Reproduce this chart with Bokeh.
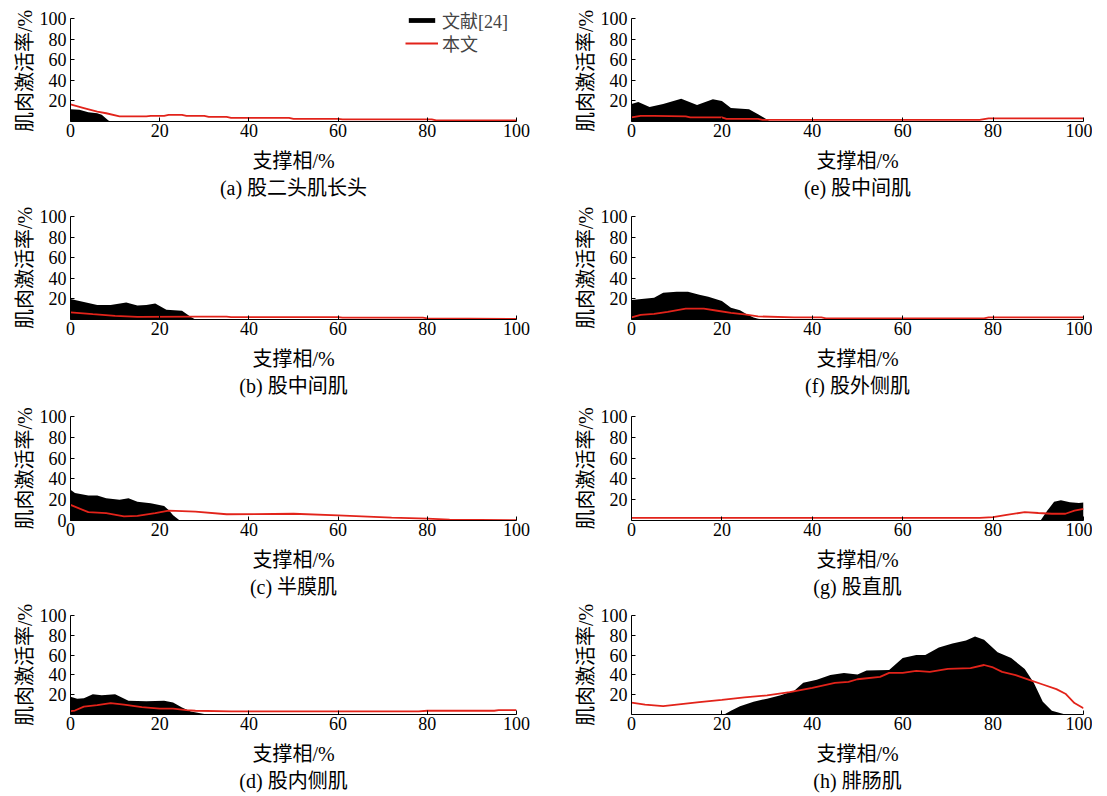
from bokeh.plotting import figure
from bokeh.layouts import gridplot
from bokeh.models import FixedTicker, Legend, LegendItem, Range1d
from bokeh.embed import file_html
from bokeh.resources import INLINE

# ---------------- data ----------------
x_ticks = [0, 20, 40, 60, 80, 100]
y_ticks = [20, 40, 60, 80, 100]
y_ticks_zero = [0, 20, 40, 60, 80, 100]
x_title = "支撑相/%"
y_title = "肌肉激活率/%"
series_names = ["文献[24]", "本文"]

# (a) 股二头肌长头
a_lit_x = [0, 2, 4, 6, 7, 8.5, 9, 100]
a_lit_y = [12, 11.5, 9, 8, 6.5, 1, 0, 0]
a_ours_x = [0, 3, 6, 8, 11, 17, 18, 21, 22, 25, 26, 30, 31, 35, 36, 49, 50, 60, 61, 81, 82, 100]
a_ours_y = [16.5, 13, 9.5, 8, 5, 5, 5.5, 5.5, 6.5, 6.5, 5.5, 5.5, 4.5, 4.5, 3.5, 3.5, 2.5, 2.5, 2, 2, 1, 1]

# (b) 股中间肌
b_lit_x = [0, 1, 3, 6, 9, 12.5, 15, 17, 19, 21.5, 25, 27, 28, 100]
b_lit_y = [20, 19, 17, 14, 14, 16.5, 13.5, 14, 15.5, 9.5, 8.5, 2.5, 0, 0]
b_ours_x = [0, 5, 10, 15, 28, 35, 36, 60, 61, 79, 80, 100]
b_ours_y = [7, 5.2, 3.5, 2.5, 2.8, 2.8, 2.4, 2.4, 1.8, 1.8, 1, 0.5]

# (c) 半膜肌
c_lit_x = [0, 1, 4, 6, 8, 11, 13, 15, 18, 21, 22, 23, 24.5, 100]
c_lit_y = [29.5, 26.5, 24, 24, 21.5, 20, 21.5, 18, 16.5, 14, 10, 5, 0, 0]
c_ours_x = [0, 4, 8, 12, 15, 19, 22, 28, 35, 50, 60, 72, 80, 85, 100]
c_ours_y = [15, 8, 7, 4, 4.5, 7, 9.5, 8.5, 6, 6.5, 5, 2.8, 1.8, 0.8, 0.3]

# (d) 股内侧肌
d_lit_x = [0, 1.5, 3, 5, 7, 10, 13, 17, 21, 23, 25, 27, 30, 31, 100]
d_lit_y = [18, 16, 16.5, 20.5, 19.5, 20.5, 14, 13.5, 14, 12, 7, 3, 0.6, 0, 0]
d_ours_x = [0, 1, 3, 6, 9, 12, 16, 20, 23, 26, 28, 36, 78, 80, 95, 96, 100]
d_ours_y = [3.5, 4, 8, 9.5, 11.5, 10, 7.5, 6, 6, 4.5, 3.8, 3.2, 3.2, 3.8, 3.8, 4.4, 4.4]

# (e) 股中间肌
e_lit_x = [0, 1.5, 4, 7, 11, 14.5, 18, 20, 22, 26, 28, 30.5, 31, 100]
e_lit_y = [17, 19, 14, 17, 22, 16, 21.5, 20, 13, 12, 7, 0.5, 0, 0]
e_ours_x = [0, 2, 5, 12, 13, 20, 21, 28, 29, 77, 79, 100]
e_ours_y = [4, 5.5, 5.5, 5, 4, 4, 2.5, 2.5, 1.5, 1.5, 3, 3]

# (f) 股外侧肌
f_lit_x = [0, 5, 7, 10, 12.5, 15, 17, 20, 22, 24, 25.5, 27, 28, 29.5, 100]
f_lit_y = [19, 21, 26, 27, 27, 24, 22, 18, 11.5, 9, 5, 2, 0.7, 0, 0]
f_ours_x = [0, 2, 5, 8, 12, 16, 19, 22, 25, 28, 36, 42, 43, 78, 79, 100]
f_ours_y = [2, 4.5, 5.5, 7.5, 10.5, 10.5, 8.5, 6.5, 5, 3, 2, 2, 1, 1, 2, 2]

# (g) 股直肌
g_lit_x = [0, 90.5, 92, 93.5, 95, 97, 99, 100]
g_lit_y = [0, 0, 9.5, 18, 19.5, 17.5, 16.8, 17.3]
g_ours_x = [0, 77, 80, 83, 87, 90, 93, 96, 98, 100]
g_ours_y = [2.5, 2.5, 3.2, 5.4, 8, 7.2, 6.5, 6.5, 9.5, 11.2]

# (h) 腓肠肌
h_lit_x = [0, 20.5, 22, 24, 27, 30, 33, 36, 38, 41, 44, 47, 50, 52, 57, 60, 63, 65,
           68, 71, 74, 76, 78, 81, 84, 87, 89, 91, 93, 96, 100]
h_lit_y = [0, 0, 3.8, 8.4, 13, 16, 19.4, 24, 32, 35, 40, 42, 40.3, 44.4, 45, 57, 60, 60,
           67.8, 71.6, 74.7, 78.8, 75.6, 63, 57, 46, 32, 13, 3.8, 0, 0]
h_ours_x = [0, 3, 7, 10, 15, 20, 25, 30, 35, 40, 45, 48, 50, 55, 57, 60, 63, 66, 70,
            75, 78, 80, 82, 85, 88, 91, 94, 96, 98, 100]
h_ours_y = [12, 10, 8.4, 10, 12.5, 14.7, 17.2, 19.4, 22.5, 27, 32, 33, 35.6, 38, 42, 42,
            44, 43, 46, 46.9, 50, 47.5, 43, 39.7, 35, 30.3, 25.6, 21, 11.6, 6.3]

captions = ["(a) 股二头肌长头", "(b) 股中间肌", "(c) 半膜肌", "(d) 股内侧肌",
            "(e) 股中间肌", "(f) 股外侧肌", "(g) 股直肌", "(h) 腓肠肌"]

# ---------------- styling ----------------
FONT = "'Liberation Serif', 'Noto Sans CJK SC'"
RED = "#e2231a"


def make(lit_x, lit_y, ours_x, ours_y, caption, width, height,
         left, right, top, frame_h, yt, y_end=100, ylabel=y_title, legend=False):
    p = figure(width=width, height=height,
               x_range=Range1d(0, 100), y_range=Range1d(0, y_end),
               output_backend="svg", toolbar_location=None, title=None,
               min_border_left=left, min_border_right=right,
               min_border_top=top, min_border_bottom=height - top - frame_h)
    p.outline_line_color = None
    p.xgrid.visible = False
    p.ygrid.visible = False
    p.background_fill_color = "white"
    p.border_fill_color = "white"

    va = p.varea(x=lit_x, y1=0, y2=lit_y, fill_color="black")
    ln = p.line(ours_x, ours_y, line_color=RED, line_width=1.8)

    for ax in (p.xaxis[0], p.yaxis[0]):
        ax.major_tick_in = 4
        ax.major_tick_out = 0
        ax.minor_tick_line_color = None
        ax.axis_line_color = "black"
        ax.major_tick_line_color = "black"
        ax.major_label_text_font = FONT
        ax.major_label_text_font_size = "18px"
        ax.major_label_text_color = "black"
        ax.axis_label_text_font = FONT
        ax.axis_label_text_font_size = "20px"
        ax.axis_label_text_font_style = "normal"
        ax.axis_label_text_color = "black"
    p.xaxis.ticker = FixedTicker(ticks=x_ticks)
    p.yaxis.ticker = FixedTicker(ticks=yt)
    p.yaxis.bounds = (0, 100)
    p.xaxis.axis_label = x_title + "\n" + caption
    p.xaxis.axis_label_text_line_height = 1.25
    p.yaxis.axis_label = ylabel
    p.xaxis.major_label_standoff = 2
    p.xaxis.axis_label_standoff = 10
    p.yaxis.major_label_standoff = 4
    p.yaxis.axis_label_standoff = 1

    if legend:
        common = dict(border_line_color=None, background_fill_alpha=0,
                      glyph_width=33, glyph_height=6,
                      label_text_font=FONT, label_text_font_size="18px",
                      label_height=20, padding=0, margin=0, spacing=0,
                      label_standoff=4)
        lg1 = Legend(items=[LegendItem(label=series_names[0], renderers=[va])],
                     location=(335, 88), **common)
        lg2 = Legend(items=[LegendItem(label=series_names[1], renderers=[ln])],
                     location=(335, 65), **common)
        p.add_layout(lg1, "center")
        p.add_layout(lg2, "center")
    return p


# row k: figure height, top border, frame height
heights = [202, 200, 199, 194]
tops = [18, 14, 14, 14]
frames = [104, 103, 104, 103]
left_data = [(a_lit_x, a_lit_y, a_ours_x, a_ours_y),
             (b_lit_x, b_lit_y, b_ours_x, b_ours_y),
             (c_lit_x, c_lit_y, c_ours_x, c_ours_y),
             (d_lit_x, d_lit_y, d_ours_x, d_ours_y)]
right_data = [(e_lit_x, e_lit_y, e_ours_x, e_ours_y),
              (f_lit_x, f_lit_y, f_ours_x, f_ours_y),
              (g_lit_x, g_lit_y, g_ours_x, g_ours_y),
              (h_lit_x, h_lit_y, h_ours_x, h_ours_y)]

rows = []
for i in range(4):
    if i == 0:
        # taller frames in the first row so the legend above y=100 is not clipped;
        # the y axis itself is still drawn from 0 to 100
        L = make(*left_data[i], captions[i], 553, heights[i], 70, 37, 5, 117,
                 y_ticks, y_end=112.5, ylabel=y_title + "   ", legend=True)
        R = make(*right_data[i], captions[i + 4], 539, heights[i], 78, 9, 5, 117,
                 y_ticks, y_end=112.5, ylabel=y_title + "   ")
    else:
        L = make(*left_data[i], captions[i], 553, heights[i], 70, 37, tops[i], frames[i],
                 y_ticks_zero if i == 2 else y_ticks)
        R = make(*right_data[i], captions[i + 4], 539, heights[i], 78, 9, tops[i], frames[i],
                 y_ticks)
    rows.append([L, R])

grid = gridplot(rows, toolbar_location=None)

open("out.html", "w").write(file_html(grid, INLINE))
